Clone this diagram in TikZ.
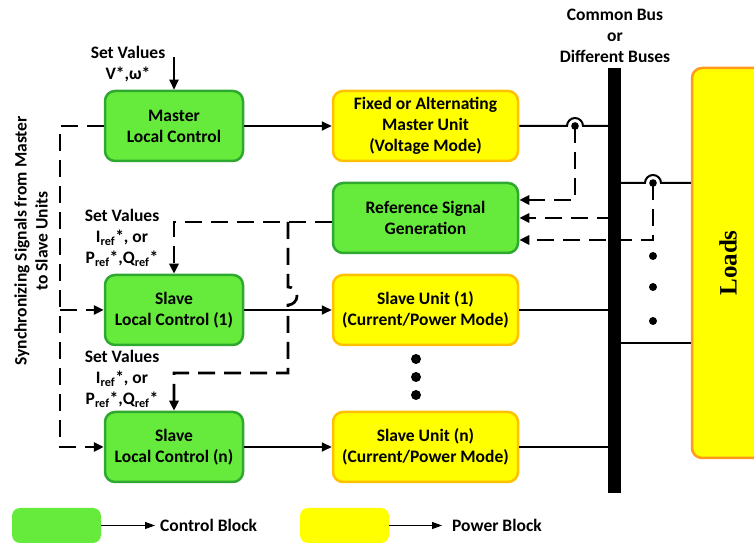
\documentclass[tikz,border=0pt]{standalone}
\usepackage{fontspec}
\setmainfont{Carlito}
\newfontfamily\loadsfont{Liberation Serif}
\usetikzlibrary{arrows.meta}
\definecolor{ctrlgreen}{HTML}{66EB3C}
\definecolor{ctrledge}{HTML}{2FA82F}
\definecolor{powyellow}{HTML}{FFFF00}
\definecolor{powedge}{HTML}{FFC000}
\definecolor{loadedge}{HTML}{FF9A1A}
\tikzset{
  diag/txt/.style={font=\fontsize{17.5}{21}\selectfont\bfseries, align=center, inner sep=0pt},
  diag/ctrl/.style={diag/txt, draw=ctrledge, fill=ctrlgreen, line width=2.5pt, rounded corners=10pt, minimum width=138pt, minimum height=70pt},
  diag/pow/.style={diag/txt, draw=powedge, fill=powyellow, line width=2.5pt, rounded corners=10pt, minimum width=185pt, minimum height=70pt},
  diag/wire/.style={line width=2pt},
  diag/sig/.style={line width=2.7pt, dash pattern=on 17pt off 9pt},
  diag/tip/.style={-{Triangle[length=10pt,width=9pt]}},
  diag/thin/.style={line width=1pt, -{Triangle[length=10pt,width=7pt]}}
}

\begin{document}
\begin{tikzpicture}[x=1pt,y=1pt]
\useasboundingbox (0,0) rectangle (754,545);
\node[diag/ctrl] (masterlc) at (174,419) {Master\\Local Control};
\node[diag/pow] (masteru) at (425.5,419) {Fixed or Alternating\\Master Unit\\(Voltage Mode)};
\node[diag/ctrl, minimum width=185pt] (refgen) at (425.5,327) {Reference Signal\\Generation};
\node[diag/ctrl] (slavelc1) at (174,235) {Slave\\Local Control (1)};
\node[diag/pow] (slaveu1) at (425.5,235) {Slave Unit (1)\\(Current/Power Mode)};
\node[diag/ctrl] (slavelcn) at (174,98) {Slave\\Local Control (n)};
\node[diag/pow] (slaveun) at (425.5,98) {Slave Unit (n)\\(Current/Power Mode)};
\node[draw=loadedge, fill=powyellow, line width=2.5pt, rounded corners=10pt, minimum width=100pt, minimum height=390pt, inner sep=0pt] (loads) at (742,282) {};
\node[rotate=90, inner sep=0pt, font=\loadsfont\fontsize{25}{30}\selectfont\bfseries] (loadslbl) at (728,282) {Loads};
\node[diag/txt] (bustxt) at (615,509) {Common Bus\\or\\Different Buses};
\node[diag/txt] (setm) at (128,481) {Set Values\\V*,ω*};
\node[diag/txt] (sets1) at (122,307) {Set Values\\I\textsubscript{ref}*, or\\P\textsubscript{ref}*,Q\textsubscript{ref}*};
\node[diag/txt] (setsn) at (122,166) {Set Values\\I\textsubscript{ref}*, or\\P\textsubscript{ref}*,Q\textsubscript{ref}*};
\node[diag/txt, rotate=90] (synctxt) at (31,304) {Synchronizing Signals from Master\\to Slave Units};

\coordinate (setmin) at (174,488);
\draw[diag/wire, diag/tip] (setmin) -- (masterlc.north);
\draw[diag/wire, diag/tip] (masterlc) -- (masteru);
\draw[diag/wire, diag/tip] (slavelc1) -- (slaveu1);
\draw[diag/wire, diag/tip] (slavelcn) -- (slaveun);

\coordinate (syncbot) at (60,98);
\draw[diag/sig, diag/tip] (masterlc.west) -| (syncbot) -- (slavelcn.west);
\draw[diag/sig, diag/tip] (syncbot |- slavelc1.west) -- (slavelc1.west);

\coordinate (reftee) at (288,323);
\coordinate (teelow) at (288,172);
\draw[diag/sig, diag/tip] ([yshift=-4pt]refgen.west) -| (slavelc1.north);
\draw[diag/sig, diag/tip] (reftee) -- (288,258) arc[start angle=90, end angle=-90, radius=9pt] -- (teelow) -| (slavelcn.north);

\coordinate (hopa) at (575,419);
\coordinate (hopb) at (653,362);
\coordinate (loadlow) at (653,202);
\draw[diag/sig, diag/tip] (hopa) |- ([yshift=18pt]refgen.east);
\draw[diag/sig, diag/tip] (hopb) |- ([yshift=-22pt]refgen.east);
\draw[diag/sig, diag/tip] (614,327) -- (refgen.east);

\node[fill=black, inner sep=0pt, minimum width=13pt, minimum height=425pt] (bus) at (614.5,264.5) {};
\draw[diag/wire] (masteru.east) -- ([xshift=-8pt]hopa) arc[start angle=180, end angle=0, radius=8pt] -- (hopa -| bus.west);
\fill (hopa) circle (3.8pt);
\draw[diag/wire] (hopb -| bus.east) -- ([xshift=-8pt]hopb) arc[start angle=180, end angle=0, radius=8pt] -- (hopb -| loads.west);
\fill (hopb) circle (3.8pt);
\draw[diag/wire] (loadlow -| bus.east) -- (loadlow -| loads.west);
\draw[diag/wire] (slaveu1.east) -- (slaveu1.east -| bus.west);
\draw[diag/wire] (slaveun.east) -- (slaveun.east -| bus.west);
\foreach \y in {289,258,224} \fill (653,\y) circle (4pt);
\foreach \y in {186,168,150} \fill (416,\y) circle (5pt);

\node[fill=ctrlgreen, rounded corners=8pt, minimum width=89pt, minimum height=35pt, inner sep=0pt] (legc) at (56.5,19.5) {};
\node[diag/txt, anchor=west] (legctxt) at (160,19.5) {Control Block};
\draw[diag/thin] (legc.east) -- ([xshift=-5pt]legctxt.west);
\node[fill=powyellow, rounded corners=8pt, minimum width=89pt, minimum height=35pt, inner sep=0pt] (legp) at (344.5,19.5) {};
\node[diag/txt, anchor=west] (legptxt) at (452,19.5) {Power Block};
\draw[diag/thin] (legp.east) -- ([xshift=-10pt]legptxt.west);
\end{tikzpicture}
\end{document}
